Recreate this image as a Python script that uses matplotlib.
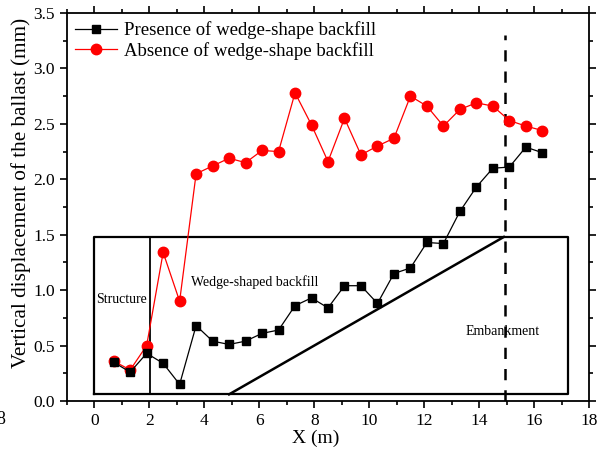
import matplotlib
matplotlib.use('Agg')
import matplotlib.pyplot as plt

plt.rcParams['font.family'] = ['Liberation Serif', 'DejaVu Serif']
plt.rcParams['mathtext.fontset'] = 'stix'

# measuring positions along the track (m)
x_pos = [0.7, 1.3, 1.9, 2.5, 3.1, 3.7, 4.3, 4.9, 5.5, 6.1, 6.7, 7.3, 7.9, 8.5,
         9.1, 9.7, 10.3, 10.9, 11.5, 12.1, 12.7, 13.3, 13.9, 14.5, 15.1, 15.7, 16.3]

# vertical displacement of ballast (mm)
with_wedge = [0.35, 0.26, 0.43, 0.34, 0.15, 0.68, 0.54, 0.51, 0.54, 0.61, 0.64,
              0.86, 0.93, 0.84, 1.04, 1.04, 0.88, 1.15, 1.20, 1.43, 1.42, 1.71,
              1.93, 2.10, 2.11, 2.29, 2.24]
without_wedge = [0.36, 0.28, 0.50, 1.34, 0.90, 2.05, 2.12, 2.19, 2.15, 2.26, 2.25,
                 2.78, 2.49, 2.16, 2.55, 2.22, 2.30, 2.37, 2.75, 2.66, 2.48, 2.63,
                 2.69, 2.66, 2.53, 2.48, 2.44]

# schematic of the transition zone
box_x = [0, 17.25, 17.25, 0, 0]
box_y = [0.06, 0.06, 1.48, 1.48, 0.06]
struct_x = [2.03, 2.03]
struct_y = [0.06, 1.48]
slope_x = [4.9, 14.9]
slope_y = [0.06, 1.48]
dash_x = [14.93, 14.93]
dash_y = [0.0, 3.3]

fig = plt.figure(figsize=(6.05, 4.53), dpi=100)
ax = fig.add_axes([0.1107, 0.1148, 0.8629, 0.8565])

ax.plot(box_x, box_y, color='black', lw=1.6, zorder=1)
ax.plot(struct_x, struct_y, color='black', lw=1.3, zorder=1)
ax.plot(slope_x, slope_y, color='black', lw=1.8, zorder=1)
ax.plot(dash_x, dash_y, color='black', lw=1.8, ls=(0, (4.5, 4)), zorder=1)

ax.plot(x_pos, with_wedge, color='black', lw=0.9, marker='s', ms=6,
        label='Presence of wedge-shape backfill', zorder=3)
ax.plot(x_pos, without_wedge, color='red', lw=0.9, marker='o', ms=7.5,
        label='Absence of wedge-shape backfill', zorder=2)

ax.text(0.05, 0.92, 'Structure', fontsize=10, va='center', ha='left')
ax.text(3.5, 1.07, 'Wedge-shaped backfill', fontsize=10, va='center', ha='left')
ax.text(14.85, 0.63, 'Embankment', fontsize=10, va='center', ha='center')

ax.set_xlim(-1, 18)
ax.set_ylim(0, 3.5)
ax.set_xticks(range(0, 19, 2))
ax.set_xticks(range(-1, 19, 2), minor=True)
ax.set_yticks([0, 0.5, 1.0, 1.5, 2.0, 2.5, 3.0, 3.5])
ax.set_yticks([0.25, 0.75, 1.25, 1.75, 2.25, 2.75, 3.25], minor=True)
ax.yaxis.set_major_formatter(plt.FormatStrFormatter('%.1f'))

ax.tick_params(axis='both', which='major', direction='out', length=5, width=1.2,
               labelsize=12.5)
ax.tick_params(axis='both', which='minor', direction='out', length=3, width=1.2)
ax.tick_params(top=True, right=True, which='both', labeltop=False, labelright=False)
for s in ax.spines.values():
    s.set_linewidth(1.3)

ax.set_xlabel('X (m)', fontsize=14)
ax.xaxis.set_label_coords(0.477, -0.075)
ax.set_ylabel('Vertical displacement of the ballast (mm)', fontsize=15.2)
ax.yaxis.set_label_coords(-0.068, 0.535)

ax.legend(loc='upper left', frameon=False, fontsize=13.5, handlelength=2.2,
          borderaxespad=0.1, handletextpad=0.4, labelspacing=0.15,
          borderpad=0.35)

# stray tick label at the left edge
fig.text(5 / 605, 1 - 420 / 453, '8', fontsize=13, ha='right', va='center')

fig.savefig('out.png', dpi=100)
